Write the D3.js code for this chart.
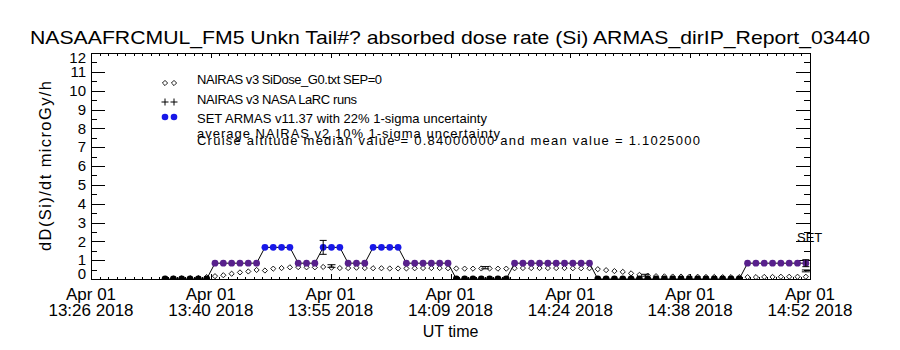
<!DOCTYPE html>
<html><head><meta charset="utf-8">
<script src="https://cdn.jsdelivr.net/npm/d3@7"></script>
<style>body{margin:0;background:#fff}svg{display:block;font-family:"Liberation Sans",Arial,sans-serif}</style>
</head><body><svg id="c" width="900" height="350"></svg>
<script>
// ---------------- data ----------------
const titleText = "NASAAFRCMUL_FM5 Unkn Tail#? absorbed dose rate (Si) ARMAS_dirIP_Report_03440";
const yTitle = "dD(Si)/dt microGy/h";
const xTitle = "UT time";
const legendLabels = [
  "NAIRAS v3 SiDose_G0.txt SEP=0",
  "NAIRAS v3 NASA LaRC runs",
  "SET ARMAS v11.37 with 22% 1-sigma uncertainty",
  "average NAIRAS v2 10% 1-sigma uncertainty",
  "Cruise altitude median value = 0.84000000 and mean value = 1.1025000"
];
const domainStart = "13:26:30", domainEnd = "14:52:54";
const xTickTimes = ["13:26:30","13:40:54","13:55:18","14:09:42","14:24:06","14:38:30","14:52:54"];
const xTickLine1 = ["Apr 01","Apr 01","Apr 01","Apr 01","Apr 01","Apr 01","Apr 01"];
const xTickLine2 = ["13:26 2018","13:40 2018","13:55 2018","14:09 2018","14:24 2018","14:38 2018","14:52 2018"];
const yTickValues = [0,1,2,3,4,5,6,7,8,9,10,11,12];
const sampleStart = "13:35:24";   // first 1-minute sample
// SET ARMAS dose rate, one value per minute
const armas = [
  0,0,0,0,0,0,
  0.84,0.84,0.84,0.84,0.84,0.84,
  1.68,1.68,1.68,1.68,
  0.84,0.84,0.84,
  1.68,1.68,1.68,
  0.84,0.84,0.84,
  1.68,1.68,1.68,1.68,
  0.84,0.84,0.84,0.84,0.84,0.84,
  0,0,0,0,0,0,0,
  0.84,0.84,0.84,0.84,0.84,0.84,0.84,0.84,0.84,0.84,
  0,0,0,0,0,0,0,0,0,0,0,0,0,0,0,0,0,0,
  0.84,0.84,0.84,0.84,0.84,0.84,0.84,0.84
];
// NAIRAS v3 SiDose, one value per minute
const nairas = [
  0.02,0.02,0.03,0.04,0.05,0.10,
  0.15,0.20,0.28,0.35,0.40,0.48,
  0.45,0.55,0.58,0.62,
  0.63,0.62,0.62,
  0.64,0.60,0.58,
  0.58,0.60,0.58,
  0.57,0.57,0.56,0.56,
  0.56,0.57,0.58,0.58,0.58,0.57,
  0.56,0.55,0.55,0.56,0.56,0.55,0.55,
  0.57,0.58,0.58,0.58,0.58,0.58,0.58,0.57,0.57,0.57,
  0.52,0.47,0.42,0.38,0.30,0.22,0.18,0.15,0.14,0.13,0.13,0.12,0.12,0.11,0.11,0.10,0.10,0.10,
  0.10,0.10,0.11,0.11,0.12,0.12,0.12,0.12
];
const armasErrIndex = [19, 77];
const armasErrPct = 0.22;
const v2Times = ["13:55:24","14:13:52","14:33:06","14:52:24"];
const v2Values = [0.69, 0.60, 0.20, 0.43];
const v2Pct = 0.10;

// ---------------- layout ----------------
const svg = d3.select("#c");
const L = 91, R = 810, T = 53, B = 279;
const day = "2018-04-01T";
const tp = s => new Date(day + s + "Z");
const x = d3.scaleUtc().domain([tp(domainStart), tp(domainEnd)]).range([L, R]);
const y = d3.scaleLinear().domain([0, 12]).range([B, T]);
const t0 = tp(sampleStart);
const times = armas.map((_, i) => d3.utcMinute.offset(t0, i));
const colorOf = v => v <= 0.01 ? "#000000" : (v < 1.2 ? "#58208c" : "#1818e8");

svg.append("rect").attr("width", 900).attr("height", 350).attr("fill", "#fff");

// title
svg.append("text").attr("x", 30).attr("y", 44).attr("font-size", 19)
  .attr("textLength", 840).attr("lengthAdjust", "spacingAndGlyphs").text(titleText);

// ticks via d3 axes
const majT = xTickTimes.map(tp);
const minT = [];
for (let k = 0; k < majT.length - 1; k++) {
  const a = +majT[k], b = +majT[k + 1];
  for (let j = 1; j < 14; j++) minT.push(new Date(a + (b - a) * j / 14));
}
const ax = (g) => g.selectAll(".domain").remove();
svg.append("g").attr("transform", `translate(0,${B})`)
  .call(d3.axisBottom(x).tickValues(majT).tickSize(-5).tickFormat("")).call(ax);
svg.append("g").attr("transform", `translate(0,${B})`)
  .call(d3.axisBottom(x).tickValues(minT).tickSize(-2.5).tickFormat("")).call(ax);
svg.append("g").attr("transform", `translate(0,${T})`)
  .call(d3.axisTop(x).tickValues(majT).tickSize(-5).tickFormat("")).call(ax);
svg.append("g").attr("transform", `translate(0,${T})`)
  .call(d3.axisTop(x).tickValues(minT).tickSize(-2.5).tickFormat("")).call(ax);
const yMin = yTickValues.slice(0, -1).map(v => v + 0.5);
svg.append("g").attr("transform", `translate(${L},0)`)
  .call(d3.axisLeft(y).tickValues(yTickValues).tickSize(-14).tickFormat("")).call(ax);
svg.append("g").attr("transform", `translate(${L},0)`)
  .call(d3.axisLeft(y).tickValues(yMin).tickSize(-6).tickFormat("")).call(ax);
svg.append("g").attr("transform", `translate(${R},0)`)
  .call(d3.axisRight(y).tickValues(yTickValues).tickSize(-14).tickFormat("")).call(ax);
svg.append("g").attr("transform", `translate(${R},0)`)
  .call(d3.axisRight(y).tickValues(yMin).tickSize(-6).tickFormat("")).call(ax);
svg.selectAll(".tick line").attr("stroke", "#000").attr("shape-rendering", "crispEdges");

// frame
svg.append("rect").attr("x", L + 0.5).attr("y", T + 0.5).attr("width", R - L).attr("height", B - T)
  .attr("fill", "none").attr("stroke", "#000").attr("shape-rendering", "crispEdges");

// y tick labels
svg.append("g").selectAll("text").data(yTickValues).join("text")
  .attr("x", 86).attr("text-anchor", "end").attr("font-size", 15)
  .attr("y", d => Math.max(57.5, Math.min(274, y(d))) + 5.3).text(d => d);

// x tick labels
const xl = svg.append("g").attr("font-size", 17).attr("text-anchor", "middle");
xl.selectAll(".l1").data(majT).join("text").attr("class", "l1")
  .attr("x", d => x(d)).attr("y", 300).text((d, i) => xTickLine1[i]);
xl.selectAll(".l2").data(majT).join("text").attr("class", "l2")
  .attr("x", d => x(d)).attr("y", 316).text((d, i) => xTickLine2[i]);

// axis titles
svg.append("text").attr("x", (L + R) / 2).attr("y", 337).attr("text-anchor", "middle")
  .attr("font-size", 16).text(xTitle);
svg.append("text").attr("transform", `translate(51,${(T + B) / 2}) rotate(-90)`)
  .attr("text-anchor", "middle").attr("font-size", 16.5)
  .attr("textLength", 170).attr("lengthAdjust", "spacing").text(yTitle);

// legend
const lg = svg.append("g").attr("font-size", 13);
const lgY = [84, 103.5, 123, 137.5, 145];
const lgW = [185, 160, 290, 303, 503];
lg.selectAll("text").data(legendLabels).join("text").attr("x", 197).attr("y", (d, i) => lgY[i])
  .attr("textLength", (d, i) => lgW[i]).attr("lengthAdjust", "spacing").text(d => d);
const diamond = (cx, cy, s) => `M${cx},${cy - s}L${cx + s},${cy}L${cx},${cy + s}L${cx - s},${cy}Z`;
[165, 174].forEach(cx => {
  lg.append("path").attr("d", diamond(cx, 83, 2.6)).attr("fill", "none").attr("stroke", "#000").attr("stroke-width", 0.9);
  lg.append("path").attr("d", `M${cx - 3.5},102H${cx + 3.5}M${cx},98.5V105.5`).attr("stroke", "#000");
  lg.append("circle").attr("cx", cx).attr("cy", 117).attr("r", 3.3).attr("fill", "#1818e8");
});

// plot data (clipped to frame)
svg.append("clipPath").attr("id", "pc").append("rect").attr("x", L).attr("y", T).attr("width", R - L).attr("height", B - T);
const pg = svg.append("g").attr("clip-path", "url(#pc)");

pg.selectAll(".dm").data(nairas).join("path").attr("class", "dm")
  .attr("d", (d, i) => diamond(x(times[i]), y(d), 2.6))
  .attr("fill", "none").attr("stroke", "#000").attr("stroke-width", 0.9);

pg.append("path").datum(armas)
  .attr("d", d3.line().x((d, i) => x(times[i])).y(d => y(d)))
  .attr("fill", "none").attr("stroke", "#000").attr("stroke-width", 1);

pg.selectAll(".ar").data(armas).join("circle").attr("class", "ar")
  .attr("cx", (d, i) => x(times[i])).attr("cy", d => y(d)).attr("r", 3.4)
  .attr("fill", d => colorOf(d));

const ibeam = (cx, v, e, w) => `M${cx},${y(v - e)}V${y(v + e)}M${cx - w},${y(v - e)}H${cx + w}M${cx - w},${y(v + e)}H${cx + w}`;
svg.append("g").selectAll("path").data(armasErrIndex).join("path")
  .attr("d", i => ibeam(x(times[i]), armas[i], armas[i] * armasErrPct, 3.5))
  .attr("stroke", "#000").attr("fill", "none");
svg.append("g").selectAll("path").data(v2Values).join("path")
  .attr("d", (v, i) => ibeam(x(tp(v2Times[i])), v, Math.max(v * v2Pct, 0.05), 4))
  .attr("stroke", "#000").attr("fill", "none");

svg.append("text").attr("x", 797).attr("y", 242).attr("font-size", 13).text("SET");
</script></body></html>
